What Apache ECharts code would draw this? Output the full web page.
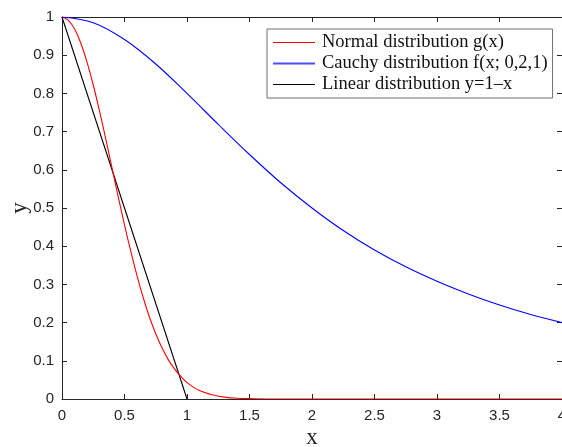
<!DOCTYPE html>
<html>
<head>
<meta charset="utf-8">
<script src="https://cdn.jsdelivr.net/npm/echarts@6/dist/echarts.min.js"></script>
<style>
  html, body { margin: 0; padding: 0; background: #fff; }
  #chart { width: 562px; height: 447px; }
</style>
</head>
<body>
<div id="chart"></div>
<script>
// Normal curve g(x), sampled points [x, y]
const normalX = [0, 0.05, 0.1, 0.15, 0.2, 0.25, 0.3, 0.35, 0.4, 0.45, 0.5, 0.55, 0.6, 0.65, 0.7, 0.75, 0.8, 0.85, 0.9, 0.95, 1.0, 1.1, 1.2, 1.3, 1.4, 1.5, 1.7, 2.0, 3.0, 4.0];
const normalY = [1, 0.992, 0.969, 0.932, 0.882, 0.822, 0.754, 0.681, 0.605, 0.529, 0.456, 0.387, 0.323, 0.265, 0.214, 0.171, 0.134, 0.103, 0.079, 0.059, 0.043, 0.022, 0.011, 0.005, 0.002, 0.001, 0, 0, 0, 0];

// Cauchy curve f(x; 0,2,1)
const cauchyX = [0, 0.25, 0.5, 0.75, 1, 1.25, 1.5, 1.75, 2, 2.25, 2.5, 2.75, 3, 3.25, 3.5, 3.75, 4];
const cauchyY = [1, 0.985, 0.941, 0.877, 0.8, 0.719, 0.64, 0.566, 0.5, 0.441, 0.39, 0.346, 0.308, 0.275, 0.246, 0.221, 0.2];

// Linear y = 1 - x
const linearX = [0, 1];
const linearY = [1, 0];

const seriesNames = ['Normal distribution g(x)', 'Cauchy distribution f(x; 0,2,1)', 'Linear distribution y=1\u2013x'];
const seriesColors = ['#ff0000', '#0000ff', '#000000'];
const legendLineColors = ['#ff0000', '#4d4dff', '#000000'];
const legendLineWidths = [1, 2, 1];

const xTicks = [0, 0.5, 1, 1.5, 2, 2.5, 3, 3.5, 4];
const yTicks = [0, 0.1, 0.2, 0.3, 0.4, 0.5, 0.6, 0.7, 0.8, 0.9, 1];

const zip = (xs, ys) => xs.map((x, i) => [x, ys[i]]);

const tickFont = { fontFamily: 'Liberation Sans', fontSize: 15, color: '#262626' };
const serif = 'Liberation Serif';

const chart = echarts.init(document.getElementById('chart'), null, { renderer: 'canvas' });

const fmt = v => String(+v.toFixed(1));

chart.setOption({
  animation: false,
  backgroundColor: '#fff',
  grid: { left: 62, top: 17, width: 500, height: 382, containLabel: false, outerBoundsMode: 'none' },
  legend: {
    left: 267, top: 29,
    orient: 'vertical',
    padding: [4, 5, 4, 5],
    itemGap: 2,
    itemWidth: 42,
    itemHeight: 18,
    backgroundColor: '#fff',
    borderColor: '#6f6f6f',
    borderWidth: 1,
    borderRadius: 0,
    // line sample only, no marker
    itemStyle: { opacity: 0 },
    textStyle: { fontFamily: serif, fontSize: 18.5, color: '#111', lineHeight: 18, padding: [0, 0, 0, 2] },
    data: seriesNames.map((n, i) => ({
      name: n,
      lineStyle: { color: legendLineColors[i], width: legendLineWidths[i] }
    }))
  },
  xAxis: [{
    type: 'value', min: 0, max: 4, interval: 0.5,
    name: 'x', nameLocation: 'middle', nameGap: 27, nameMoveOverlap: false,
    nameTextStyle: { fontFamily: serif, fontSize: 23, color: '#262626' },
    axisLine: { show: true, lineStyle: { color: '#262626', width: 1 } },
    axisTick: { show: true, inside: true, length: 5, lineStyle: { color: '#262626' } },
    axisLabel: Object.assign({ margin: 9, formatter: fmt, showMaxLabel: true }, tickFont),
    splitLine: { show: false }
  }, {
    type: 'value', min: 0, max: 4, interval: 0.5, position: 'top',
    axisLine: { show: true, onZero: false, lineStyle: { color: '#262626', width: 1 } },
    axisTick: { show: true, inside: true, length: 5, lineStyle: { color: '#262626' } },
    axisLabel: { show: false },
    splitLine: { show: false }
  }],
  yAxis: [{
    type: 'value', min: 0, max: 1, interval: 0.1,
    name: 'y', nameLocation: 'middle', nameGap: 31, nameRotate: 90, nameMoveOverlap: false,
    nameTextStyle: { fontFamily: serif, fontSize: 23, color: '#262626' },
    axisLine: { show: true, lineStyle: { color: '#262626', width: 1 } },
    axisTick: { show: true, inside: true, length: 5, lineStyle: { color: '#262626' } },
    axisLabel: Object.assign({ margin: 8, formatter: fmt }, tickFont),
    splitLine: { show: false }
  }, {
    type: 'value', min: 0, max: 1, interval: 0.1, position: 'right',
    axisLine: { show: true, onZero: false, lineStyle: { color: '#262626', width: 1 } },
    axisTick: { show: true, inside: true, length: 5, lineStyle: { color: '#262626' } },
    axisLabel: { show: false },
    splitLine: { show: false }
  }],
  series: [
    {
      name: seriesNames[0], type: 'line', smooth: 0.35, symbol: 'none',
      itemStyle: { color: seriesColors[0] },
      lineStyle: { color: seriesColors[0], width: 1.1 },
      data: zip(normalX, normalY), z: 3
    },
    {
      name: seriesNames[1], type: 'line', smooth: 0.35, symbol: 'none',
      itemStyle: { color: seriesColors[1] },
      lineStyle: { color: seriesColors[1], width: 1.1 },
      data: zip(cauchyX, cauchyY), z: 3
    },
    {
      name: seriesNames[2], type: 'line', symbol: 'none',
      itemStyle: { color: seriesColors[2] },
      lineStyle: { color: seriesColors[2], width: 1.1 },
      data: zip(linearX, linearY), z: 2
    }
  ]
});
</script>
</body>
</html>
